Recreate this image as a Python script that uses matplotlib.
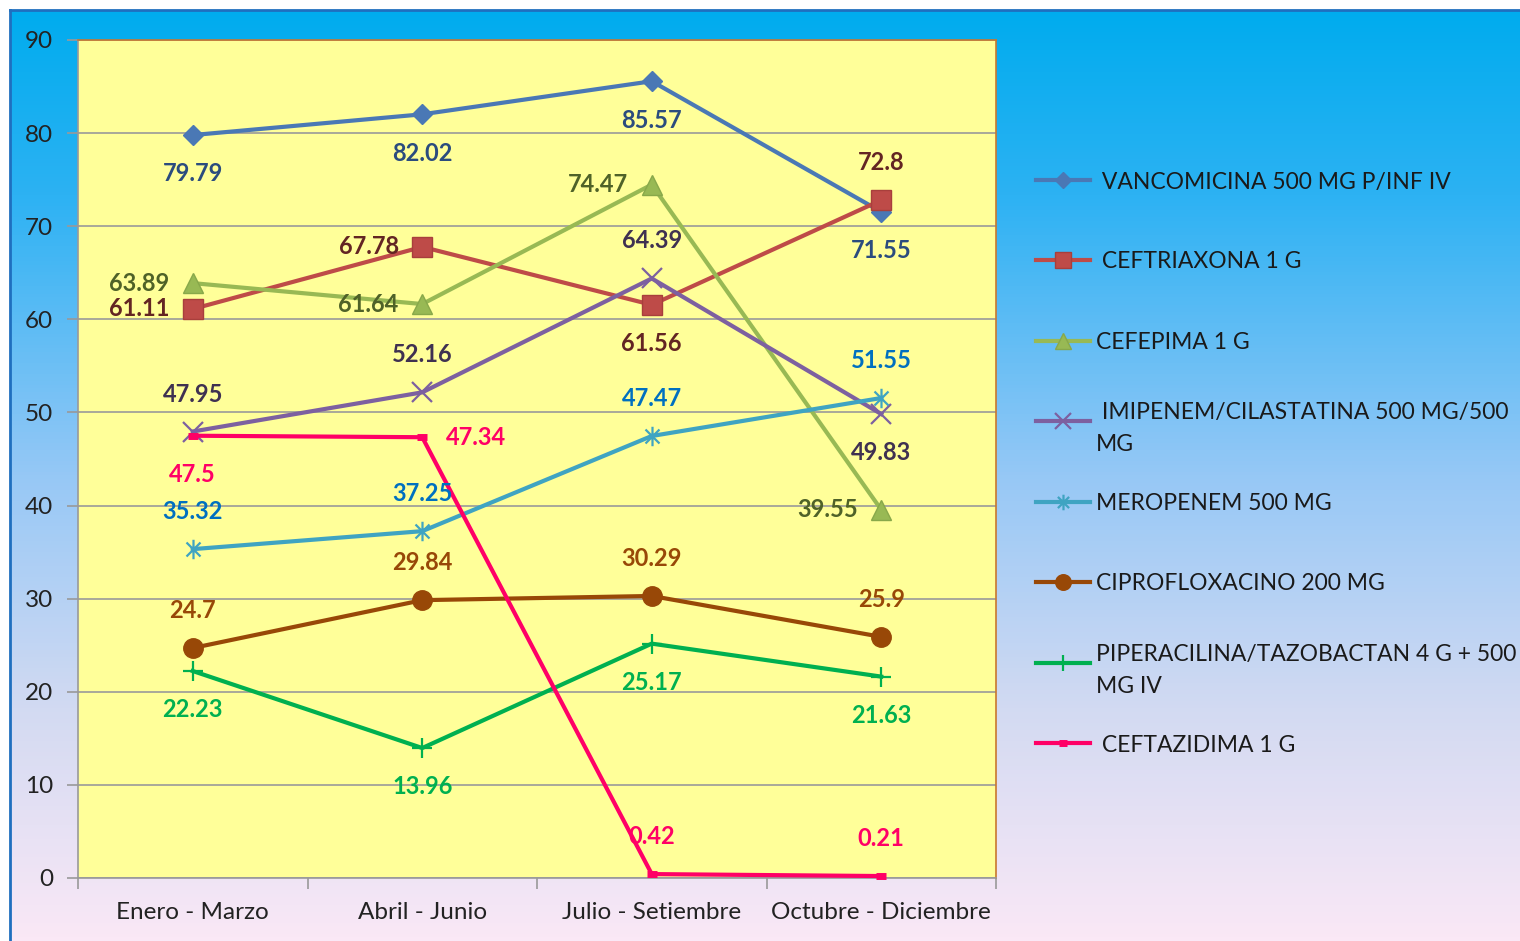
import numpy as np
import matplotlib
matplotlib.use("Agg")
import matplotlib.pyplot as plt
from matplotlib.colors import LinearSegmentedColormap
from matplotlib.lines import Line2D
from matplotlib.path import Path

plt.rcParams['font.family'] = ['Lato', 'DejaVu Sans']

trimestres = ["Enero - Marzo", "Abril - Junio", "Julio - Setiembre", "Octubre - Diciembre"]

vancomicina = [79.79, 82.02, 85.57, 71.55]
ceftriaxona = [61.11, 67.78, 61.56, 72.8]
cefepima = [63.89, 61.64, 74.47, 39.55]
imipenem = [47.95, 52.16, 64.39, 49.83]
meropenem = [35.32, 37.25, 47.47, 51.55]
ciprofloxacino = [24.7, 29.84, 30.29, 25.9]
piperacilina = [22.23, 13.96, 25.17, 21.63]
ceftazidima = [47.5, 47.34, 0.42, 0.21]

nombres = [
    " VANCOMICINA 500 MG P/INF IV",
    " CEFTRIAXONA 1 G",
    "CEFEPIMA 1 G",
    " IMIPENEM/CILASTATINA 500 MG/500\nMG",
    "MEROPENEM 500 MG",
    "CIPROFLOXACINO 200 MG",
    "PIPERACILINA/TAZOBACTAN 4 G + 500\nMG IV",
    " CEFTAZIDIMA 1 G",
]
series = [vancomicina, ceftriaxona, cefepima, imipenem,
          meropenem, ciprofloxacino, piperacilina, ceftazidima]

# asterisk marker: vertical stroke plus an X
s = 0.72
star = Path([(0, -1), (0, 1), (-s, -s), (s, s), (-s, s), (s, -s)],
            [Path.MOVETO, Path.LINETO] * 3)

estilos = [
    dict(color='#4A78B5', marker='D', ms=10, mec='#4A78B5'),
    dict(color='#BE4B48', marker='s', ms=14, mec='#A83F3C'),
    dict(color='#98B954', marker='^', ms=14, mec='#88A84A'),
    dict(color='#7D60A0', marker='x', ms=14, mew=1.6),
    dict(color='#3FA4C2', marker=star, ms=14, mew=1.6),
    dict(color='#984807', marker='o', ms=14, mec='#984807'),
    dict(color='#00B050', marker='+', ms=14, mew=1.6),
    dict(color='#FF0066', marker='_', ms=7, mew=5),
]
col_etiqueta = ['#2B4C7E', '#632523', '#4F6228', '#3F3151',
                '#0070C0', '#984807', '#00B050', '#FF0066']

# where each data label sits relative to its point
pos_etiquetas = [
    ['below', 'below', 'below', 'below'],
    ['left', 'left', 'below', 'above'],
    ['left', 'left', 'left', 'left'],
    ['above', 'above', 'above', 'below'],
    ['above', 'above', 'above', 'above'],
    ['above', 'above', 'above', 'above'],
    ['below', 'below', 'below', 'below'],
    ['below', 'right', 'above', 'above'],
]
offsets = {
    'below': ((0, -28), 'center'),
    'above': ((0, 27), 'center'),
    'left': ((-17, 0), 'right'),
    'right': ((17, 0), 'left'),
}

W, H = 1520, 941
fig = plt.figure(figsize=(W / 100, H / 100), dpi=100)
fig.patch.set_facecolor('white')

# gradient backdrop of the chart area
bg = fig.add_axes([10 / W, 0, 1 - 10 / W, 1 - 10 / H])
cmap = LinearSegmentedColormap.from_list('fondo', [
    (0.0, (0 / 255, 172 / 255, 238 / 255)),
    (0.2, (45 / 255, 178 / 255, 243 / 255)),
    (0.5, (150 / 255, 200 / 255, 246 / 255)),
    (0.75, (210 / 255, 218 / 255, 242 / 255)),
    (1.0, (250 / 255, 232 / 255, 246 / 255)),
])
bg.imshow(np.linspace(0, 1, 256).reshape(-1, 1), aspect='auto', cmap=cmap,
          extent=[0, 1, 0, 1], origin='upper')
bg.set_xticks([])
bg.set_yticks([])
for side in ['right', 'bottom']:
    bg.spines[side].set_visible(False)
for side in ['left', 'top']:
    bg.spines[side].set_color('#1F6FBF')
    bg.spines[side].set_linewidth(2)

ax = fig.add_axes([78 / W, 1 - 878 / H, (996 - 78) / W, (878 - 40) / H])
ax.set_facecolor('#FFFF99')
x = np.arange(len(trimestres))

for vals, st, col, pos in zip(series, estilos, col_etiqueta, pos_etiquetas):
    ax.plot(x, vals, lw=3, zorder=3, clip_on=False, **st)
    for xi, v, p in zip(x, vals, pos):
        (dx, dy), ha = offsets[p]
        ax.annotate(f"{v:g}", (xi, v), xytext=(dx, dy), textcoords='offset points',
                    ha=ha, va='center', fontsize=17, fontweight='bold',
                    color=col, zorder=5)

ax.set_xlim(-0.5, 3.5)
ax.set_ylim(0, 90)
ax.set_yticks(np.arange(0, 91, 10))
ax.yaxis.grid(True, color='#999999', lw=1.2)
ax.set_axisbelow(True)

ax.set_xticks(np.arange(-0.5, 3.6, 1))
ax.set_xticklabels([])
ax.set_xticks(x, minor=True)
ax.set_xticklabels(trimestres, minor=True)
ax.tick_params(axis='x', which='major', length=8, color='#999999', width=1.2)
ax.tick_params(axis='x', which='minor', length=0, pad=17, labelsize=17.5,
               labelcolor='#222222')
ax.tick_params(axis='y', length=8, color='#999999', width=1.2, pad=10,
               labelsize=17.5, labelcolor='#222222')

for side in ['left', 'bottom']:
    ax.spines[side].set_color('#999999')
    ax.spines[side].set_linewidth(1.2)
for side in ['top', 'right']:
    ax.spines[side].set_color('#C8782E')
    ax.spines[side].set_linewidth(1.2)

# legend drawn by hand at the right
y_leg = [180, 260, 341, 421, 502, 582, 663, 743]
for yl, st, nombre in zip(y_leg, estilos, nombres):
    yf = 1 - yl / H
    fig.add_artist(Line2D([1036 / W, 1090 / W], [yf, yf], lw=3,
                          color=st['color'], transform=fig.transFigure))
    mst = {k: v for k, v in st.items() if k != 'color'}
    mst['ms'] = mst['ms'] * 0.8
    fig.add_artist(Line2D([1063 / W], [yf], lw=0, color=st['color'],
                          transform=fig.transFigure, **mst))
    fig.text(1096 / W, yf, nombre, ha='left', va='center_baseline',
             fontsize=16.5, color='#1A1A1A', linespacing=1.65)

fig.savefig('out.png', dpi=100, facecolor=fig.get_facecolor())
